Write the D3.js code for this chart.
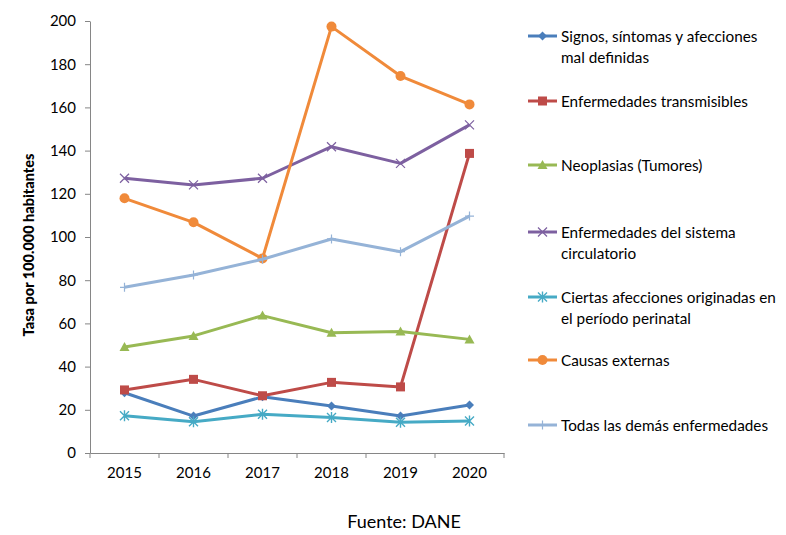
<!DOCTYPE html>
<html><head><meta charset="utf-8">
<script src="https://cdn.jsdelivr.net/npm/d3@7/dist/d3.min.js"></script>
<style>body{margin:0;background:#fff}svg{display:block}text{font-family:Lato,"Open Sans",sans-serif}</style>
</head><body><svg id="c" width="786" height="535"></svg>
<script>
const years = ["2015","2016","2017","2018","2019","2020"];
const yTicks = [0,20,40,60,80,100,120,140,160,180,200];
const seriesNames = [
  ["Signos, síntomas y afecciones","mal definidas"],
  ["Enfermedades transmisibles"],
  ["Neoplasias (Tumores)"],
  ["Enfermedades del sistema","circulatorio"],
  ["Ciertas afecciones originadas en","el período perinatal"],
  ["Causas externas"],
  ["Todas las demás enfermedades"]
];
const signos      = [27.9, 17.1, 26.0, 21.8, 17.1, 22.2];
const transmisib  = [29.2, 34.1, 26.5, 32.7, 30.6, 138.7];
const neoplasias  = [49.1, 54.2, 63.6, 55.7, 56.2, 52.6];
const circulat    = [127.2, 124.1, 127.2, 141.8, 134.1, 151.9];
const perinatal   = [17.3, 14.5, 17.9, 16.4, 14.2, 14.8];
const externas    = [117.9, 106.8, 90.1, 197.4, 174.5, 161.4];
const demas       = [76.7, 82.4, 89.7, 99.1, 93.2, 109.7];
const seriesValues = [signos, transmisib, neoplasias, circulat, perinatal, externas, demas];
const colors = ["#4A7EBB","#BE4B48","#98B954","#7D60A0","#46AAC5","#F08A3A","#95B3D7"];
const markers = ["diamond","square","triangle","x","asterisk","circle","plus"];
const legendY = [36, 101, 165, 232, 297, 360, 425];

const svg = d3.select("#c");
const x = d3.scaleBand().domain(years).range([90, 504]);
const y = d3.scaleLinear().domain([0, 200]).range([453, 21]);

// axes
const gy = svg.append("g").attr("transform","translate(90,0)")
  .call(d3.axisLeft(y).tickValues(yTicks).tickSize(5).tickSizeOuter(0));
gy.select(".domain").attr("stroke","#868686");
gy.selectAll(".tick line").attr("stroke","#868686");
gy.selectAll(".tick text").attr("font-size",15).attr("fill","#000").attr("x",-14);

const gx = svg.append("g").attr("transform","translate(0,453)")
  .call(d3.axisBottom(x).tickSize(0).tickSizeOuter(0));
gx.select(".domain").attr("stroke","#868686");
gx.selectAll(".tick text").attr("font-size",15).attr("fill","#000").attr("y",14).attr("dy","0.71em");
// tick marks between categories
const bounds = years.map(d => x(d)).concat([x.range()[1]]);
gx.selectAll(".bt").data(bounds).enter().append("line")
  .attr("x1", d => d).attr("x2", d => d).attr("y1", 0).attr("y2", 5).attr("stroke","#868686");

// y label
svg.append("text").attr("transform","translate(34,245) rotate(-90)")
  .attr("text-anchor","middle").attr("font-size",14.5).attr("font-weight","900")
  .text("Tasa por 100.000 habitantes");

// source
svg.append("text").attr("x",404).attr("y",528).attr("text-anchor","middle")
  .attr("font-size",18).text("Fuente: DANE");

function drawMarker(g, type, cx, cy, color) {
  const s = 4.5;
  if (type === "diamond") {
    g.append("path").attr("d",`M${cx},${cy-s}L${cx+s},${cy}L${cx},${cy+s}L${cx-s},${cy}Z`).attr("fill",color);
  } else if (type === "square") {
    g.append("rect").attr("x",cx-s).attr("y",cy-s).attr("width",2*s).attr("height",2*s).attr("fill",color);
  } else if (type === "triangle") {
    g.append("path").attr("d",`M${cx},${cy-s-0.5}L${cx+s+0.5},${cy+s-0.5}L${cx-s-0.5},${cy+s-0.5}Z`).attr("fill",color);
  } else if (type === "circle") {
    g.append("circle").attr("cx",cx).attr("cy",cy).attr("r",s+0.5).attr("fill",color);
  } else if (type === "x") {
    g.append("path").attr("d",`M${cx-s},${cy-s}L${cx+s},${cy+s}M${cx-s},${cy+s}L${cx+s},${cy-s}`).attr("stroke",color).attr("stroke-width",1.2);
  } else if (type === "asterisk") {
    g.append("path").attr("d",`M${cx-s},${cy-s}L${cx+s},${cy+s}M${cx-s},${cy+s}L${cx+s},${cy-s}M${cx},${cy-s-1}L${cx},${cy+s+1}`).attr("stroke",color).attr("stroke-width",1.4);
  } else if (type === "plus") {
    g.append("path").attr("d",`M${cx-s},${cy}L${cx+s},${cy}M${cx},${cy-s}L${cx},${cy+s}`).attr("stroke",color).attr("stroke-width",1.2);
  }
}

const line = d3.line().x((d,i) => x(years[i]) + x.bandwidth()/2).y(d => y(d));
seriesValues.forEach((vals, si) => {
  const g = svg.append("g");
  g.append("path").datum(vals).attr("d", line).attr("fill","none")
    .attr("stroke", colors[si]).attr("stroke-width", 3).attr("stroke-linejoin","round");
  vals.forEach((v,i) => drawMarker(g, markers[si], x(years[i]) + x.bandwidth()/2, y(v), colors[si]));
});

// legend
seriesNames.forEach((lines, si) => {
  const g = svg.append("g");
  const ly = legendY[si];
  g.append("line").attr("x1",528).attr("x2",557).attr("y1",ly).attr("y2",ly)
    .attr("stroke",colors[si]).attr("stroke-width",3);
  drawMarker(g, markers[si], 542.5, ly, colors[si]);
  lines.forEach((t, li) => {
    g.append("text").attr("x",561).attr("y",ly + 5.5 + li*21).attr("font-size",15.3).text(t);
  });
});
</script></body></html>
